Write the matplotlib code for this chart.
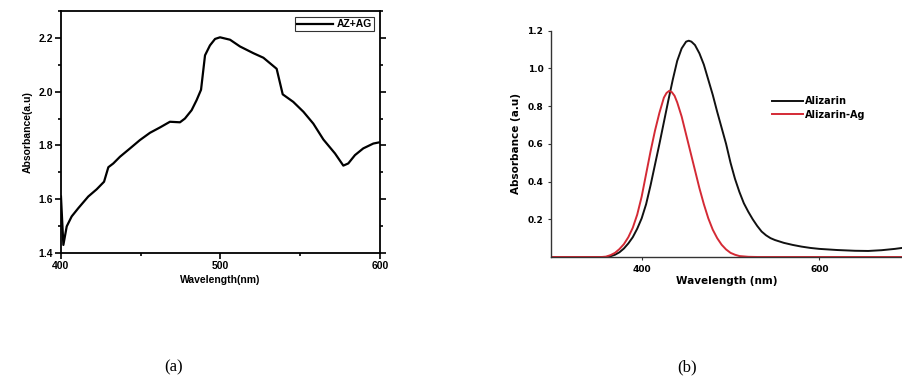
import numpy as np
import matplotlib.pyplot as plt
from matplotlib.ticker import MultipleLocator

plt.rcParams['font.family'] = ['Liberation Sans', 'DejaVu Sans']

# (a) AZ+AG spectrum
wl_a = [400, 401.5, 403.6, 406.7, 410.9, 417.1, 422.4, 427, 429.7, 432.8, 437, 443.3,
        449.5, 455.8, 462.1, 468.3, 474.6, 477.7, 481.9, 485, 487.8, 490.3, 493.4,
        496.6, 499.7, 506, 512.2, 520.6, 526.9, 535.2, 539, 545.6, 552, 558.2, 564.5,
        571.8, 577, 580.1, 584.3, 589.5, 595.8, 600]
abs_a = [1.61, 1.43, 1.499, 1.536, 1.567, 1.61, 1.637, 1.665, 1.719, 1.733, 1.758, 1.789,
         1.82, 1.847, 1.867, 1.888, 1.886, 1.9, 1.931, 1.968, 2.007, 2.135, 2.172,
         2.196, 2.202, 2.193, 2.168, 2.143, 2.126, 2.085, 1.99, 1.962, 1.925, 1.881, 1.822,
         1.77, 1.725, 1.733, 1.764, 1.789, 1.807, 1.812]

# (b) Alizarin
wl_b1 = [298, 330, 360, 365, 370, 375, 380, 385, 390, 395, 400, 405, 410, 415, 420, 425,
         430, 435, 440, 445, 450, 453, 456, 460, 465, 470, 475, 480, 485, 490, 495, 500,
         505, 510, 515, 520, 525, 530, 535, 540, 545, 550, 560, 570, 580, 590, 600, 620,
         640, 655, 670, 685, 693]
abs_b1 = [0, 0, 0, 0.004, 0.012, 0.025, 0.045, 0.072, 0.105, 0.15, 0.205, 0.28, 0.38,
          0.49, 0.6, 0.715, 0.83, 0.94, 1.04, 1.106, 1.142, 1.147, 1.142, 1.124, 1.08,
          1.02, 0.94, 0.86, 0.77, 0.685, 0.6, 0.5, 0.415, 0.345, 0.285, 0.24, 0.2, 0.165,
          0.135, 0.115, 0.1, 0.09, 0.075, 0.064, 0.055, 0.048, 0.043, 0.037, 0.033, 0.032,
          0.036, 0.043, 0.048]
# (b) Alizarin-Ag
wl_b2 = [298, 330, 355, 360, 365, 370, 375, 380, 385, 390, 395, 400, 405, 410, 415, 420,
         425, 428, 431, 434, 437, 440, 445, 450, 455, 460, 465, 470, 475, 480, 485, 490,
         495, 500, 505, 510, 520, 530, 600, 693]
abs_b2 = [0, 0, 0, 0.002, 0.01, 0.022, 0.042, 0.068, 0.105, 0.155, 0.225, 0.32, 0.44,
          0.56, 0.67, 0.765, 0.845, 0.87, 0.881, 0.874, 0.855, 0.82, 0.745, 0.65, 0.555,
          0.46, 0.365, 0.28, 0.205, 0.145, 0.1, 0.065, 0.04, 0.022, 0.012, 0.005, 0.001,
          0, 0, 0]

fig = plt.figure(figsize=(9.02, 3.83), dpi=100)

# panel (a)
ax1 = fig.add_axes([0.0676, 0.3394, 0.3537, 0.632])
ax1.plot(wl_a, abs_a, color='black', lw=1.6, label='AZ+AG')
ax1.set_xlim(400, 600)
ax1.set_ylim(1.4, 2.3)
ax1.xaxis.set_major_locator(MultipleLocator(100))
ax1.xaxis.set_minor_locator(MultipleLocator(50))
ax1.yaxis.set_minor_locator(MultipleLocator(0.1))
ax1.set_yticks([1.4, 1.6, 1.8, 2.0, 2.2])
ax1.tick_params(which='both', direction='out', width=1.2, labelsize=7.5, pad=1.5)
ax1.tick_params(which='major', length=4)
ax1.tick_params(which='minor', length=2.5)
ax1.tick_params(axis='y', which='both', right=True)
for lbl in ax1.get_xticklabels() + ax1.get_yticklabels():
    lbl.set_fontweight('bold')
for s in ax1.spines.values():
    s.set_linewidth(1.3)
ax1.set_xlabel('Wavelength(nm)', fontsize=7.5, fontweight='bold', labelpad=3)
ax1.set_ylabel('Absorbance(a.u)', fontsize=7.5, fontweight='bold', labelpad=4)
leg1 = ax1.legend(loc='upper right', frameon=True, fancybox=False,
                  borderpad=0.2, handlelength=3.5, handletextpad=0.3,
                  borderaxespad=0.6, prop={'weight': 'bold', 'size': 7.5})
leg1.get_frame().set_edgecolor('black')
leg1.get_frame().set_linewidth(0.8)

# panel (b)
fb = ['DejaVu Sans']
ax2 = fig.add_axes([0.6109, 0.329, 0.3891, 0.5908])
ax2.plot(wl_b1, abs_b1, color='#111111', lw=1.4, label='Alizarin')
ax2.plot(wl_b2, abs_b2, color='#d42a35', lw=1.4, label='Alizarin-Ag')
ax2.set_xlim(298, 693)
ax2.set_ylim(0, 1.2)
ax2.set_xticks([400, 600])
ax2.set_yticks([0.2, 0.4, 0.6, 0.8, 1.0, 1.2])
ax2.spines['top'].set_visible(False)
ax2.spines['right'].set_visible(False)
for s in ax2.spines.values():
    s.set_linewidth(1.0)
    s.set_color('#333333')
ax2.tick_params(which='both', direction='out', length=2.5, width=0.8,
                pad=3, colors='#333333', labelcolor='black')
for lbl in ax2.get_xticklabels() + ax2.get_yticklabels():
    lbl.set_fontweight('bold')
    lbl.set_family(fb)
    lbl.set_fontsize(6.5)
ax2.set_xlabel('Wavelength (nm)', fontsize=7.5, fontweight='bold', family=fb, labelpad=2)
ax2.set_ylabel('Absorbance (a.u)', fontsize=7.5, fontweight='bold', family=fb, labelpad=5)
ax2.legend(loc='center left', bbox_to_anchor=(0.615, 0.659), frameon=False,
           borderpad=0, handlelength=3.2, handletextpad=0.2, labelspacing=0.35,
           prop={'weight': 'bold', 'size': 7, 'family': fb})

# captions
fig.text(0.192, 0.03, '(a)', fontsize=12, family='Liberation Serif', ha='center')
fig.text(0.762, 0.03, '(b)', fontsize=12, family='Liberation Serif', ha='center')

fig.savefig('out.png', dpi=100)
